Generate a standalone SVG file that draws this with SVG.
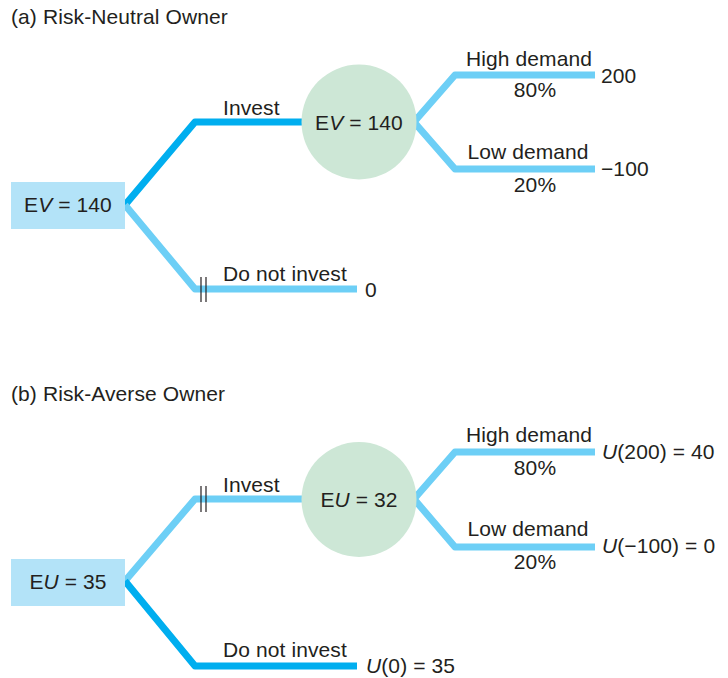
<svg xmlns="http://www.w3.org/2000/svg" width="728" height="678" viewBox="0 0 728 678">
<style>
text{font-family:"Liberation Sans",Arial,Helvetica,sans-serif;font-size:21px;fill:#231f20;letter-spacing:0.1px}
.mid{text-anchor:middle}
.dark{fill:none;stroke:#00aeef;stroke-width:7;stroke-linejoin:round}
.light{fill:none;stroke:#6dcff6;stroke-width:7;stroke-linejoin:round}
.box{fill:#b3e3f8}
.chance{fill:#cde7d6}
.bar{stroke:#231f20;stroke-width:1.2}
</style>
<rect width="728" height="678" fill="#fff"/>
<text x="11" y="24">(a) Risk-Neutral Owner</text>
<text x="11" y="401">(b) Risk-Averse Owner</text>
<g id="connectors">
  <polyline class="dark" points="125,205 195,122 305,122"/>
  <polyline class="light" points="125,205 195,289 357,289"/>
  <polyline class="light" points="414,122 455,75 595,75"/>
  <polyline class="light" points="414,122 455,169 595,169"/>
  <line class="bar" x1="201" y1="277" x2="201" y2="302"/>
  <line class="bar" x1="206" y1="277" x2="206" y2="302"/>
  <polyline class="light" points="125,581 195,499 305,499"/>
  <polyline class="dark" points="125,581 195,666 357,666"/>
  <polyline class="light" points="414,499 455,452 595,452"/>
  <polyline class="light" points="414,499 455,547 595,547"/>
  <line class="bar" x1="201" y1="486" x2="201" y2="512"/>
  <line class="bar" x1="206" y1="486" x2="206" y2="512"/>
</g>
<g id="a-decision">
  <rect class="box" x="11" y="182" width="114" height="47"/>
  <text class="mid" x="68" y="212">E<tspan font-style="italic">V</tspan> = 140</text>
</g>
<g id="a-chance">
  <circle class="chance" cx="359" cy="122" r="57.5"/>
  <text class="mid" x="359" y="130">E<tspan font-style="italic">V</tspan> = 140</text>
</g>
<g id="a-labels">
  <text x="223" y="115">Invest</text>
  <text x="223" y="281">Do not invest</text>
  <text x="365" y="297">0</text>
  <text class="mid" x="529" y="66">High demand</text>
  <text class="mid" x="535" y="97">80%</text>
  <text x="601" y="83">200</text>
  <text class="mid" x="528" y="159">Low demand</text>
  <text class="mid" x="535" y="192">20%</text>
  <text x="601" y="176">−100</text>
</g>
<g id="b-decision">
  <rect class="box" x="11" y="559" width="114" height="47"/>
  <text class="mid" x="68" y="589">E<tspan font-style="italic">U</tspan> = 35</text>
</g>
<g id="b-chance">
  <circle class="chance" cx="359" cy="499.5" r="57.5"/>
  <text class="mid" x="359" y="507">E<tspan font-style="italic">U</tspan> = 32</text>
</g>
<g id="b-labels">
  <text x="223" y="492">Invest</text>
  <text x="223" y="657">Do not invest</text>
  <text x="366" y="673"><tspan font-style="italic">U</tspan>(0) = 35</text>
  <text class="mid" x="529" y="442">High demand</text>
  <text class="mid" x="535" y="475">80%</text>
  <text x="602" y="459"><tspan font-style="italic">U</tspan>(200) = 40</text>
  <text class="mid" x="528" y="536">Low demand</text>
  <text class="mid" x="535" y="569">20%</text>
  <text x="602" y="553"><tspan font-style="italic">U</tspan>(−100) = 0</text>
</g>
</svg>
